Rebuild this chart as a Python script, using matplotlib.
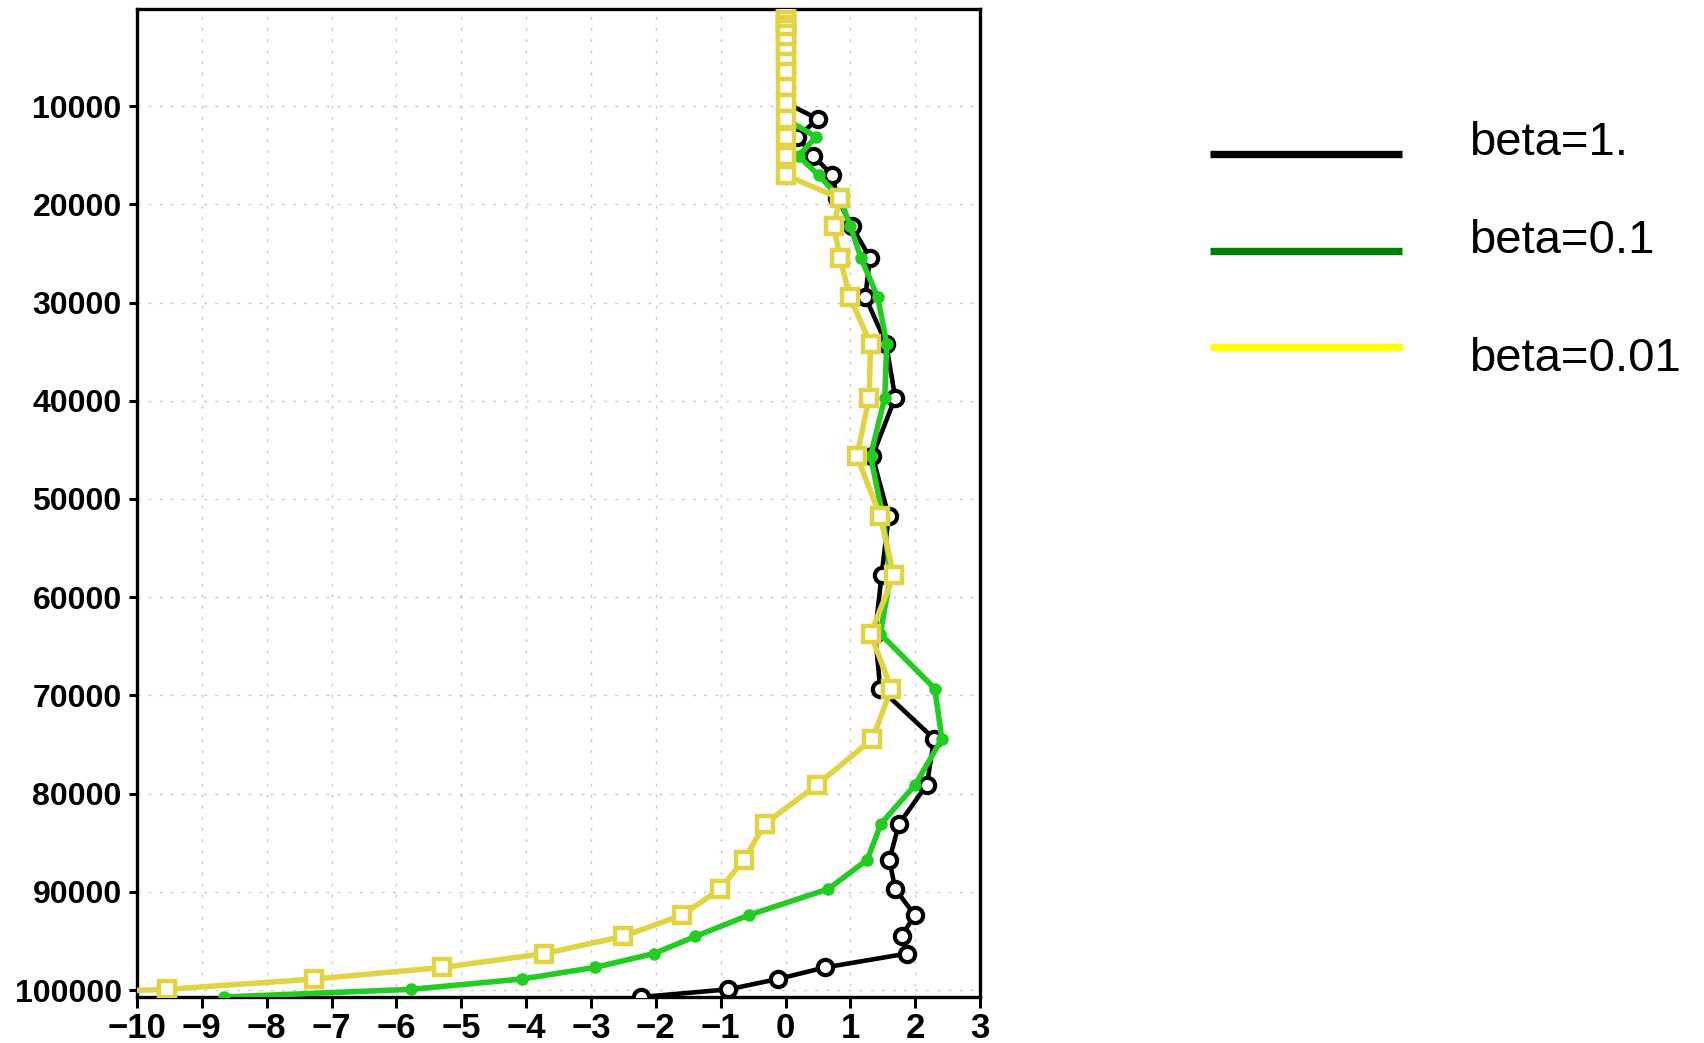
import matplotlib
matplotlib.use("Agg")
import matplotlib.pyplot as plt
from matplotlib.lines import Line2D

# model levels (Pa), top to bottom
levels = [170, 680, 1190, 1700, 2140, 2650, 3500, 4470, 5490, 6510, 8100, 9660,
          11320, 13130, 15090, 17030, 19400, 22230, 25420, 29430, 34180, 39680,
          45630, 51770, 57780, 63720, 69300, 74420, 79080, 83080, 86720, 89700,
          92350, 94530, 96280, 97690, 98870, 99920, 100700]

beta_1 = [0, 0, 0, 0, 0, 0, 0, 0, 0, 0, 0, 0,
          0.50, 0.18, 0.43, 0.72, 0.80, 1.02, 1.30, 1.23, 1.55, 1.69,
          1.34, 1.59, 1.48, 1.38, 1.46, 2.29, 2.18, 1.75, 1.60, 1.69,
          1.99, 1.79, 1.87, 0.61, -0.12, -0.88, -2.23]

beta_01 = [0, 0, 0, 0, 0, 0, 0, 0, 0, 0, 0, 0,
           0, 0.47, 0.20, 0.51, 0.84, 1.00, 1.16, 1.42, 1.56, 1.53,
           1.31, 1.50, 1.62, 1.46, 2.30, 2.41, 2.00, 1.47, 1.26, 0.66,
           -0.56, -1.39, -2.03, -2.94, -4.07, -5.77, -8.66]

beta_001 = [0, 0, 0, 0, 0, 0, 0, 0, 0, 0, 0, 0,
            0, 0, 0, 0, 0.84, 0.74, 0.84, 0.99, 1.31, 1.29,
            1.10, 1.46, 1.67, 1.31, 1.63, 1.34, 0.49, -0.32, -0.64, -1.01,
            -1.59, -2.51, -3.72, -5.29, -7.27, -9.54, -13.0]

labels = ["beta=1.", "beta=0.1", "beta=0.01"]
legend_colors = ["black", "#008000", "#ffff00"]

xticks = list(range(-10, 4))
yticks = list(range(10000, 100001, 10000))

fig = plt.figure(figsize=(17.04, 10.43), dpi=100)
ax = fig.add_axes([0.0804, 0.0441, 0.4948, 0.9468])

ax.plot(beta_1, levels, color="black", lw=3.3, marker="o", ms=11,
        mfc="white", mec="black", mew=3, zorder=3)
ax.plot(beta_01, levels, color="#22cc22", lw=4, marker="o", ms=8,
        mfc="#22cc22", mec="#22cc22", zorder=4)
ax.plot(beta_001, levels, color="#e0d445", lw=4, marker="s", ms=11.5,
        mfc="white", mec="#e0d445", mew=3.2, zorder=5)

ax.set_xlim(-10, 3)
ax.set_ylim(100700, 170)
ax.set_xticks(xticks)
ax.set_yticks(yticks)
ax.set_yticklabels([str(t) for t in yticks])
ax.grid(True, color="#c8c8c8", lw=1, linestyle=(0, (2, 6)))
ax.set_axisbelow(True)

for s in ax.spines.values():
    s.set_linewidth(2.4)
ax.tick_params(axis="both", direction="out", width=2.2, top=False, right=False)
ax.tick_params(axis="y", length=6, pad=5)
ax.tick_params(axis="x", length=8, pad=3)
for t in ax.get_yticklabels():
    t.set_fontfamily(["Liberation Sans", "DejaVu Sans"])
    t.set_fontsize(23)
    t.set_fontweight("bold")
for t in ax.get_xticklabels():
    t.set_fontfamily(["Liberation Sans", "DejaVu Sans"])
    t.set_fontsize(25)
    t.set_fontweight("bold")

# legend drawn by hand, outside the axes (figure fractions)
line_y = [1 - 154 / 1043, 1 - 251 / 1043, 1 - 347 / 1043]
text_y = [1 - 143 / 1043, 1 - 241 / 1043, 1 - 359 / 1043]
for c, lab, ly, ty in zip(legend_colors, labels, line_y, text_y):
    fig.add_artist(Line2D([1210 / 1704, 1402 / 1704], [ly, ly], color=c, lw=5.3,
                          solid_capstyle="butt"))
    fig.text(1469 / 1704, ty, lab, fontsize=34, va="center", ha="left",
             family=["Liberation Sans", "DejaVu Sans"])

fig.savefig("out.png", dpi=100)
